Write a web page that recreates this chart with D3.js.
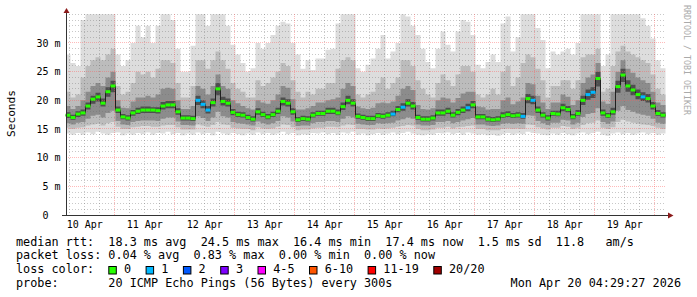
<!DOCTYPE html>
<html lang="en">
<head>
<meta charset="UTF-8">
<title>SmokePing – 10 days</title>
<script src="https://d3js.org/d3.v7.min.js"></script>
<style>
  body { margin: 0; background: #fff; }
  svg { display: block; font-family: "DejaVu Sans Mono", monospace; }
  .pre { white-space: pre; }
</style>
</head>
<body>
<svg width="697" height="297"></svg>
<script>
// 2-hour steps, 10 days ending Mon Apr 20 04:29:27 2026 (values in ms)
const median = [
  17.4,17.0,17.6,17.8,19.0,20.2,20.6,19.5,21.5,22.5,
  18.3,17.1,16.9,17.8,18.1,18.3,18.3,18.3,18.2,19.0,
  19.2,19.2,18.0,16.9,16.9,16.8,20.0,19.3,18.3,19.6,
  22.0,19.8,19.5,17.9,17.5,17.4,17.0,16.7,18.0,17.5,
  17.1,17.5,18.1,19.8,19.5,18.0,16.6,16.8,16.7,17.4,
  17.7,17.7,18.1,18.1,17.8,18.9,20.0,19.5,17.2,17.0,
  16.8,16.8,17.3,17.2,17.4,17.6,18.4,18.8,19.5,19.0,
  17.0,16.7,16.7,16.9,17.8,17.8,18.1,17.4,17.9,18.3,
  18.7,19.2,17.1,17.1,16.7,16.6,16.7,17.3,17.5,17.3,
  17.4,17.2,20.3,20.0,18.3,17.4,16.9,17.7,17.6,18.7,
  18.4,17.1,17.7,20.0,21.0,21.4,23.8,17.8,17.3,18.0,
  22.4,24.4,22.5,21.8,21.0,20.6,20.3,19.0,17.7,17.4
];

// lost pings (out of 20) per step
const loss = [
  0,0,0,0,0,0,0,0,0,0, 0,0,0,0,0,0,0,0,0,0,
  0,0,0,0,0,0,1,1,1,0, 0,0,0,0,0,0,0,0,0,0,
  0,0,0,0,0,0,0,0,0,0, 0,0,0,0,0,0,0,0,0,0,
  0,0,0,0,0,1,0,1,0,0, 0,0,0,0,0,0,0,0,0,0,
  1,0,0,0,0,0,0,0,0,0, 0,1,0,1,0,0,0,0,0,0,
  0,0,0,0,1,1,0,0,0,0, 0,0,0,0,0,1,0,0,0,0
];

// sorted pings: 20th (max), 18th, 15th, 12th, 9th, 6th, 3rd, 1st (min)
const ping20 = [
  28,26.5,26,34,35,35,35,35,35,35,
  28,26,27,30,33,31,33,30,33,35,
  35,34,29,25,25,29.5,35,35,33,35,
  35,35,33,29.7,28,26.5,25,25.6,30,29,
  30,31.4,33,33.7,33.4,30,28,25.5,27,25.3,
  27.3,27.3,28.8,29,33.4,35,35,35,25.6,25,
  26.2,27.3,29,31.4,27.3,28.5,30,35,34.6,33,
  31.4,29,26.7,25.6,29,32,29.7,28.5,32,34,
  33.7,31.4,26.2,25.6,26.7,28,26.7,33.4,34.6,28.5,
  31,35,35,35,32.6,30.5,25.6,28.5,28,28.5,
  29,28,30,35,35,35,35,26,28,35,
  35,35,35,35,35,34.3,33,30.8,27,25.6
];
const ping18 = [
  21.5,20.5,21,24,26,27,27.5,27,28,29,
  22.5,21,21.5,23,25,24.5,25,24,25.5,27,
  27,26.5,23,20.5,20.5,22.5,27,27,25.5,27,
  28.5,27,25.5,23,22,21.5,20.5,20.5,23.5,22.5,
  23,24,25,26.5,26,23.5,21.5,20.5,21.5,21,
  22,22,23,23,25.5,27,27.5,27,21,20.5,
  21,21.5,23,24,22,23,24,27,27,26,
  23.5,22,21,20.5,23,24.5,23.5,22.5,24.5,26,
  26,25,21,20.5,21,22,21,25,26,22.5,
  24,26.5,28,27.5,25.5,23.5,20.5,22.5,22.5,23.5,
  23.5,22,23.5,27.5,28,28,29,21.5,22,26,
  28.5,29.5,28.5,28,27.5,27,26.5,24.5,22,21
];
const ping15 = [
  19,18.5,19,20,21.5,22.5,23,22.5,24,25,
  20,18.7,18.6,19.8,20.5,20.5,20.8,20.5,21,22,
  22.2,22,20,18.5,18.5,19,22.5,22,21,22.5,
  24.5,22.5,22,20,19.5,19,18.6,18.4,20,19.6,
  19.4,20,21,22.5,22.2,20.2,18.4,18.4,18.6,19,
  19.6,19.6,20,20.2,20.5,22,23,22.5,18.9,18.6,
  18.5,18.7,19.5,19.6,19.5,19.8,20.8,22,22.5,21.8,
  19.2,18.5,18.4,18.6,20,20.5,20.3,19.6,20.4,21.2,
  21.5,21.5,18.9,18.8,18.4,18.5,18.5,20,20.5,19.3,
  19.8,20.5,23,22.8,20.8,19.6,18.5,19.6,19.6,21,
  20.6,19.2,20,23,24,24.5,26.5,19.8,19.4,21.5,
  25,27,25.5,24.8,24,23.5,23,21.5,19.6,19.2
];
const ping12 = [
  17.9,17.5,18.1,18.4,19.6,20.8,21.3,20.3,22.3,23.4,
  18.9,17.6,17.4,18.3,18.7,18.9,18.9,18.8,18.8,19.7,
  19.9,19.9,18.6,17.4,17.4,17.3,20.8,20,19,20.3,
  23,20.6,20.3,18.5,18,17.9,17.5,17.2,18.6,18,
  17.6,18,18.7,20.5,20.2,18.6,17.1,17.3,17.2,17.9,
  18.2,18.2,18.7,18.7,18.4,19.6,20.8,20.2,17.7,17.5,
  17.3,17.3,17.8,17.7,17.9,18.2,19,19.5,20.2,19.7,
  17.5,17.2,17.2,17.4,18.4,18.4,18.7,17.9,18.5,18.9,
  19.4,19.9,17.6,17.6,17.2,17.1,17.2,17.9,18.1,17.8,
  17.9,17.8,21.1,20.8,18.9,17.9,17.4,18.2,18.2,19.4,
  19,17.6,18.3,20.8,21.9,22.3,25,18.4,17.8,18.7,
  23.4,25.5,23.5,22.7,21.9,21.4,21.1,19.7,18.3,17.9
];
const ping09 = [
  16.9,16.6,17.1,17.3,18.4,19.4,19.8,18.9,20.6,21.4,
  17.8,16.7,16.5,17.3,17.6,17.8,17.8,17.8,17.7,18.4,
  18.6,18.6,17.5,16.5,16.5,16.4,19.2,18.6,17.7,18.9,
  20.9,19.1,18.9,17.4,17.1,17,16.6,16.3,17.5,17.1,
  16.7,17.1,17.6,19.1,18.9,17.5,16.2,16.4,16.3,17,
  17.3,17.3,17.6,17.6,17.4,18.3,19.3,18.9,16.8,16.6,
  16.4,16.4,16.9,16.8,17,17.2,17.9,18.2,18.9,18.4,
  16.6,16.3,16.3,16.5,17.3,17.3,17.6,17,17.4,17.8,
  18.1,18.6,16.7,16.7,16.3,16.2,16.3,16.9,17.1,16.9,
  17,16.8,19.5,19.3,17.8,17,16.5,17.3,17.2,18.1,
  17.9,16.7,17.3,19.2,20.1,20.4,22.4,17.3,16.9,17.5,
  21.3,23.2,21.5,20.9,20.2,19.9,19.6,18.4,17.3,17
];
const ping06 = [
  16.0,15.8,16.1,16.2,16.8,17.3,17.5,17,17.8,18.2,
  16.4,15.8,15.7,16.2,16.4,16.5,16.5,16.5,16.4,16.8,
  17,17,16.3,15.7,15.7,15.6,17.2,16.9,16.4,17,
  18,17.2,17,16.2,16,15.9,15.8,15.6,16.3,16,
  15.8,16,16.4,17.2,17,16.3,15.5,15.6,15.6,16,
  16.2,16.2,16.4,16.4,16.2,16.8,17.2,17,15.9,15.8,
  15.7,15.7,16,15.9,16,16.1,16.5,16.7,17,16.8,
  15.8,15.6,15.6,15.7,16.2,16.2,16.4,16,16.2,16.5,
  16.7,16.9,15.8,15.8,15.6,15.5,15.6,15.9,16,15.9,
  16,15.9,17.4,17.3,16.4,16,15.7,16.1,16.1,16.6,
  16.5,15.8,16.1,17.1,17.6,17.8,18.6,16.2,15.9,16.3,
  18.2,19,18.3,18,17.7,17.5,17.3,16.8,16.1,15.9
];
const ping03 = [
  15.2,15.0,15.2,15.3,15.6,15.8,15.9,15.6,16.0,16.2,
  15.4,15.0,15.0,15.3,15.4,15.5,15.5,15.4,15.4,15.6,
  15.7,15.7,15.3,14.9,14.9,14.9,15.8,15.6,15.4,15.7,
  16.2,15.8,15.7,15.2,15.1,15.0,15.0,14.8,15.3,15.1,
  15.0,15.1,15.4,15.8,15.7,15.3,14.8,14.9,14.9,15.1,
  15.2,15.2,15.4,15.4,15.3,15.6,15.8,15.7,15.0,15.0,
  14.9,14.9,15.1,15.0,15.1,15.2,15.4,15.5,15.7,15.6,
  15.0,14.8,14.8,14.9,15.2,15.2,15.4,15.1,15.3,15.4,
  15.5,15.6,15.0,15.0,14.8,14.8,14.8,15.0,15.1,15.0,
  15.1,15.0,15.8,15.7,15.3,15.1,14.9,15.2,15.2,15.5,
  15.4,15.0,15.2,15.7,16.0,16.1,16.5,15.2,15.0,15.3,
  16.2,16.6,16.3,16.1,15.9,15.8,15.7,15.5,15.2,15.0
];
const ping01 = [
  14.2,14.0,14.3,14.0,14.4,14.1,14.5,14.2,14.0,14.3,
  14.4,13.9,14.2,14.0,14.3,14.1,14.4,14.0,14.3,14.2,
  14.5,14.1,14.3,13.9,14.2,14.0,14.4,14.1,14.3,13.9,
  14.5,14.2,14.0,14.3,14.1,13.9,14.2,14.0,14.4,14.1,
  14.3,14.0,14.2,14.5,14.1,14.3,13.9,14.1,14.0,14.3,
  14.2,14.4,14.1,14.3,14.0,14.4,14.2,14.5,14.0,14.2,
  13.9,14.1,14.3,14.0,14.2,14.4,14.1,14.3,14.5,14.2,
  14.0,13.9,14.1,14.0,14.3,14.2,14.4,14.1,14.3,14.0,
  14.4,14.2,14.0,14.1,13.9,14.0,13.8,14.1,14.3,14.0,
  14.2,14.1,14.5,14.3,14.2,14.0,13.9,14.2,14.0,14.3,
  14.1,13.9,14.2,14.4,14.1,14.3,14.5,14.0,13.8,14.2,
  14.4,14.1,14.3,14.0,14.2,14.4,14.1,14.3,14.0,14.2
];

const dayLabels = ["10 Apr","11 Apr","12 Apr","13 Apr","14 Apr","15 Apr","16 Apr","17 Apr","18 Apr","19 Apr"];
const yTickValues = [0, 5, 10, 15, 20, 25, 30];
const yTickLabels = ["0\u00a0\u00a0", "5 m", "10 m", "15 m", "20 m", "25 m", "30 m"];
const lossLabels = ["0", "1", "2", "3", "4-5", "6-10", "11-19", "20/20"];
const lossUpper = [0, 1, 2, 3, 5, 10, 19, 20];
const lossColors = ["#26ff00", "#00b8ff", "#0059ff", "#7e00ff", "#ff00ff", "#ff5500", "#ff0000", "#a10000"];
const statLines = [
  "median rtt:  18.3 ms avg  24.5 ms max  16.4 ms min  17.4 ms now  1.5 ms sd  11.8   am/s",
  "packet loss: 0.04 % avg  0.83 % max  0.00 % min  0.00 % now"
];
const probeText = "probe:       20 ICMP Echo Pings (56 Bytes) every 300s";
const stampText = "Mon Apr 20 04:29:27 2026";

const svg = d3.select("svg");
const mono = "'DejaVu Sans Mono', monospace";

const endTime = Date.UTC(2026, 3, 20, 4, 29, 27);
const startTime = endTime - 10 * 864e5;
const stepMs = 2 * 3600e3;
const n = median.length;
const times = d3.range(n + 1).map(i => new Date(startTime + i * stepMs));

const x = d3.scaleUtc().domain([new Date(startTime), new Date(endTime)]).range([65.5, 665.5]);
const y = d3.scaleLinear().domain([0, 35]).range([215, 14.3]);
const at = (arr, i) => arr[Math.min(i, n - 1)];

svg.append("defs").append("clipPath").attr("id", "plot")
  .append("rect").attr("x", 66).attr("y", 14).attr("width", 600).attr("height", 201);

// smoke
const pairs = [
  [ping01, ping20, "#dddddd"],
  [ping03, ping18, "#bcbcbc"],
  [ping06, ping15, "#8c8c8c"],
  [ping09, ping12, "#4e4e4e"]
];
const smoke = svg.append("g").attr("clip-path", "url(#plot)");
pairs.forEach(([low, high, fill]) => {
  const area = d3.area().curve(d3.curveStepAfter)
    .x((d, i) => x(times[i]))
    .y0((d, i) => y(at(low, i)))
    .y1((d, i) => y(at(high, i)));
  smoke.append("path").attr("d", area(times)).attr("fill", fill);
});

// grid
const minorCol = "rgba(110,110,110,0.38)";
const majorCol = "rgba(255,90,90,0.42)";
const grid = svg.append("g").attr("stroke-width", 1).attr("shape-rendering", "crispEdges");
const hv = d3.range(1, 36);
grid.selectAll(".hg").data(hv).join("line")
  .attr("x1", 66).attr("x2", 666)
  .attr("y1", d => Math.floor(y(d)) + 0.5).attr("y2", d => Math.floor(y(d)) + 0.5)
  .attr("stroke-dasharray", d => (d % 5 === 0 && d < 35) ? "1,1" : "1,2")
  .attr("stroke", d => (d % 5 === 0 && d < 35) ? majorCol : minorCol);
const vt = d3.utcHour.every(6).range(new Date(startTime), new Date(endTime));
grid.selectAll(".vg").data(vt).join("line")
  .attr("y1", 14.3).attr("y2", 215)
  .attr("x1", d => Math.floor(x(d)) + 0.5).attr("x2", d => Math.floor(x(d)) + 0.5)
  .attr("stroke-dasharray", d => d.getUTCHours() === 0 ? "1,1" : "1,2")
  .attr("stroke", d => d.getUTCHours() === 0 ? majorCol : minorCol);

// median line with loss colour
const medLine = d3.line().curve(d3.curveStepAfter)
  .x((d, i) => x(times[i]))
  .y((d, i) => y(at(median, i)));
svg.append("path").attr("d", medLine(times))
  .attr("fill", "none").attr("stroke", "#202020").attr("stroke-width", 1);
const bucket = l => lossUpper.findIndex(u => l <= u);
svg.append("g").selectAll("rect").data(median).join("rect")
  .attr("x", (d, i) => x(times[i]))
  .attr("width", (d, i) => x(times[i + 1]) - x(times[i]))
  .attr("y", d => y(d) - 1.5).attr("height", 3)
  .attr("fill", (d, i) => lossColors[bucket(loss[i])]);

// axes
const yAxis = svg.append("g").attr("transform", "translate(66.5,0)")
  .call(d3.axisLeft(y).tickValues(yTickValues).tickFormat((d, i) => yTickLabels[i]).tickSize(0).tickPadding(6));
yAxis.select(".domain").remove();
yAxis.attr("font-family", mono).attr("font-size", 10);
yAxis.selectAll("text").attr("fill", "#000");

const noons = dayLabels.map((d, i) => new Date(Date.UTC(2026, 3, 10 + i, 12)));
const xAxis = svg.append("g").attr("transform", "translate(0,215.5)")
  .call(d3.axisBottom(x).tickValues(noons).tickFormat((d, i) => dayLabels[i]).tickSize(0).tickPadding(5.5));
xAxis.select(".domain").remove();
xAxis.attr("font-family", mono).attr("font-size", 10);
xAxis.selectAll("text").attr("fill", "#000");

svg.append("line").attr("x1", 66.5).attr("x2", 66.5).attr("y1", 216).attr("y2", 11)
  .attr("stroke", "#333");
svg.append("line").attr("x1", 62).attr("x2", 669).attr("y1", 215.5).attr("y2", 215.5)
  .attr("stroke", "#333");
svg.append("path").attr("d", "M63.5,13L69.5,13L66.5,8Z").attr("fill", "#8b1a1a");
svg.append("path").attr("d", "M668,212.5L668,218.5L673.5,215.5Z").attr("fill", "#8b1a1a");

// titles
svg.append("text").attr("transform", "translate(15,113.5) rotate(-90)")
  .attr("text-anchor", "middle").attr("font-family", mono).attr("font-size", 11.2)
  .text("Seconds");
svg.append("text").attr("transform", "translate(684,5) rotate(90)")
  .attr("font-family", mono).attr("font-size", 8.3).attr("fill", "#aaaaaa")
  .text("RRDTOOL / TOBI OETIKER");

// legend
const legend = svg.append("g").attr("font-family", mono).attr("font-size", 11.8).attr("fill", "#000");
const baselines = [245.7, 259.4, 273.3, 287.2];
statLines.forEach((s, i) => {
  legend.append("text").attr("class", "pre").attr("x", 16).attr("y", baselines[i]).text(s);
});
legend.append("text").attr("class", "pre").attr("x", 16).attr("y", baselines[2]).text("loss color:");
let bx = 108.3;
lossLabels.forEach((lab, i) => {
  legend.append("rect").attr("x", bx + 0.5).attr("y", 266.5).attr("width", 7.5).attr("height", 7.5)
    .attr("fill", lossColors[i]).attr("stroke", "#000").attr("stroke-width", 1);
  legend.append("text").attr("x", bx + 15.7).attr("y", baselines[2]).text(lab);
  bx += 15.7 + lab.length * 7.1 + 14.5;
});
legend.append("text").attr("class", "pre").attr("x", 16).attr("y", baselines[3]).text(probeText);
legend.append("text").attr("x", 681).attr("y", baselines[3]).attr("text-anchor", "end").text(stampText);
</script>
</body>
</html>
